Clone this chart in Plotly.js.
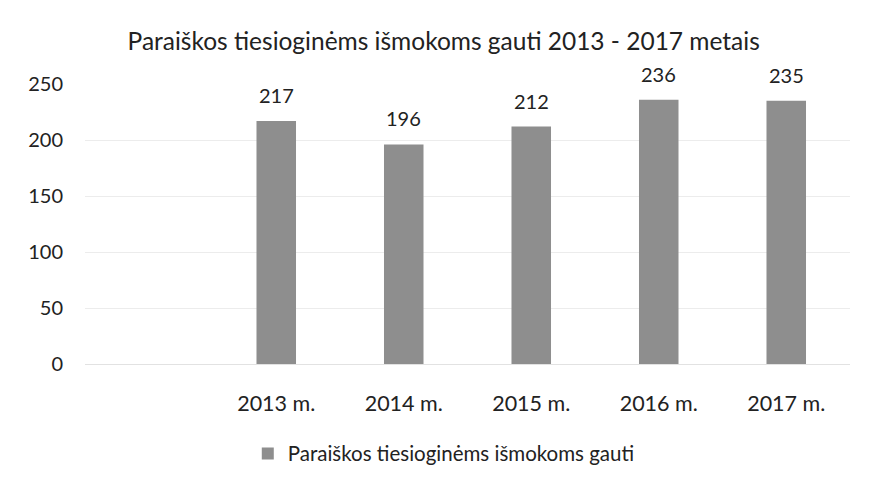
<!DOCTYPE html>
<html>
<head>
<meta charset="utf-8">
<script src="https://cdn.plot.ly/plotly-3.0.1.min.js"></script>
<style>html,body{margin:0;padding:0;background:#fff;}#chart{width:870px;height:486px;}</style>
</head>
<body>
<div id="chart"></div>
<script>
const categories = ["2013 m.", "2014 m.", "2015 m.", "2016 m.", "2017 m."];
const values = [217, 196, 212, 236, 235];
const seriesName = "Paraiškos tiesioginėms išmokoms gauti";
const yTicks = [0, 50, 100, 150, 200, 250];

const font = "Lato, 'Open Sans', sans-serif";
const valueLabels = categories.map((c, i) => ({
  x: c, y: values[i], text: String(values[i]),
  xref: "x", yref: "y", showarrow: false,
  yanchor: "bottom", yshift: 12,
  font: {family: font, size: 20, color: "#222"}
}));
Plotly.newPlot("chart", [{
  type: "bar",
  x: categories,
  y: values,
  name: seriesName,
  width: 0.31,
  marker: {color: "#8e8e8e"},
  cliponaxis: false,
  showlegend: true
}], {
  width: 870, height: 486,
  paper_bgcolor: "#ffffff", plot_bgcolor: "#ffffff",
  margin: {l: 85, r: 20, t: 84, b: 120},
  title: {text: "Paraiškos tiesioginėms išmokoms gauti 2013 - 2017 metais", font: {family: font, size: 24.5, color: "#222"}, x: 0.51, xanchor: "center", y: 0.915, yanchor: "middle"},
  bargap: 0.69,
  xaxis: {type: "category", range: [-1.5, 4.5], showgrid: false, zeroline: false, showline: false, ticks: "", tickfont: {family: font, size: 21.5, color: "#222"}, ticklabelstandoff: 24},
  yaxis: {range: [0, 250], tickvals: yTicks, showgrid: true, gridcolor: "#ececec", zeroline: true, zerolinecolor: "#e2e2e2", showline: false, ticks: "", tickfont: {family: font, size: 20, color: "#222"}, ticklabelstandoff: 21},
  legend: {orientation: "h", x: 0.469, xanchor: "center", y: -0.32, yanchor: "middle", font: {family: font, size: 20.5, color: "#222"}, itemwidth: 30},
  annotations: valueLabels,
  showlegend: true
}, {staticPlot: true});
</script>
</body>
</html>
